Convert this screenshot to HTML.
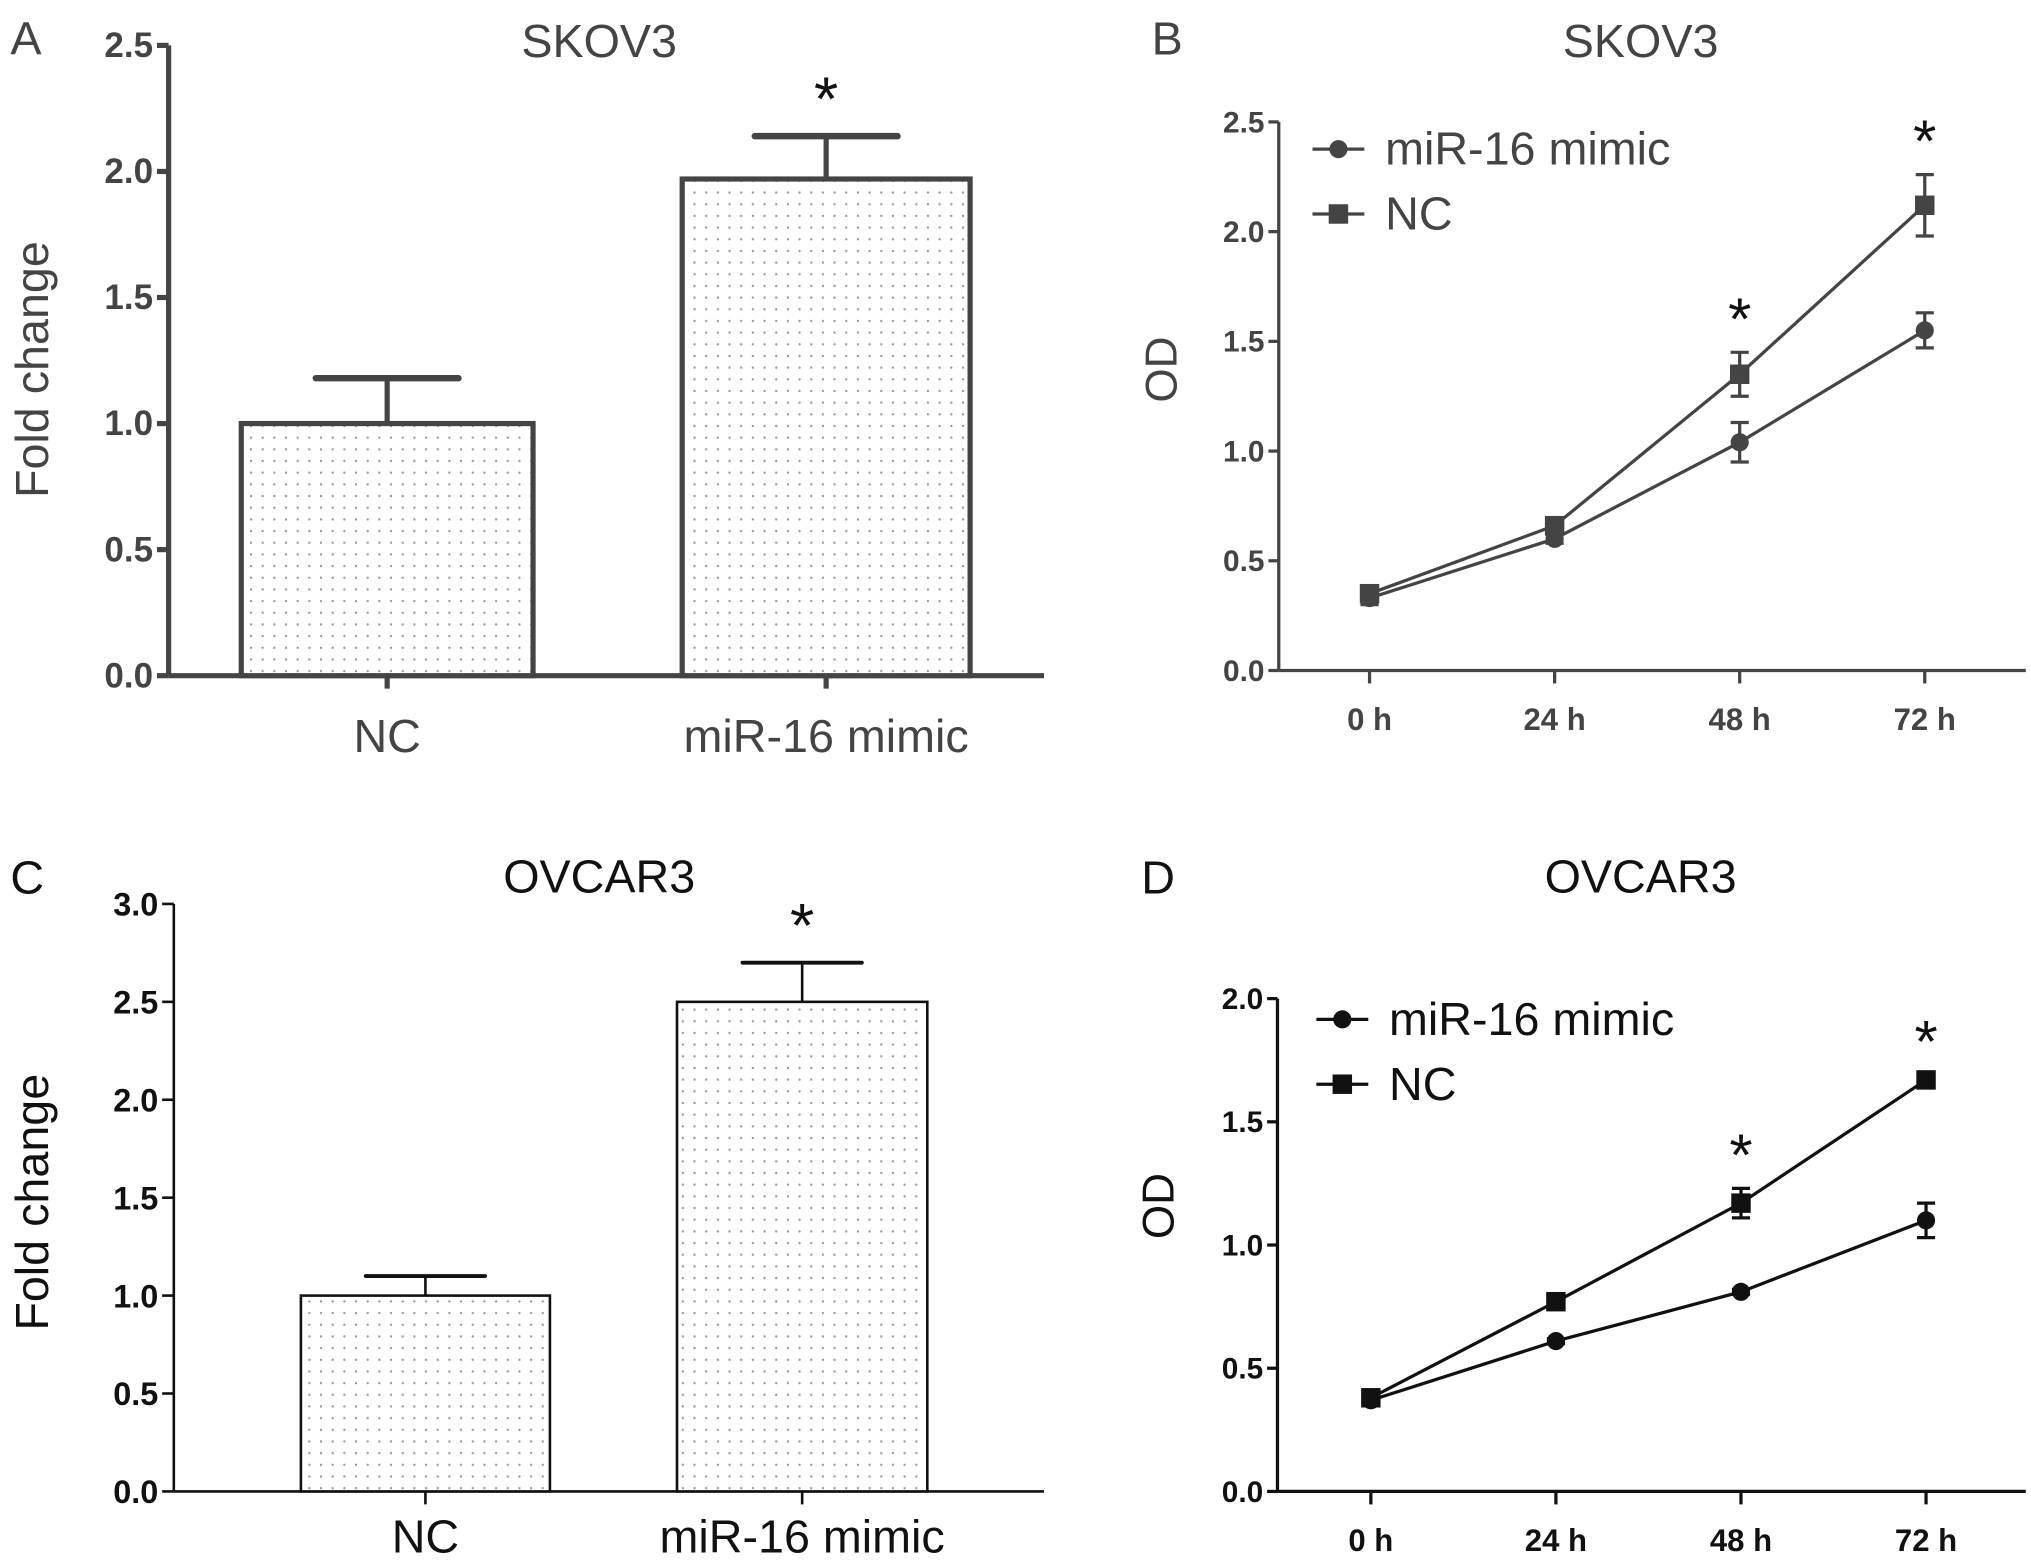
<!DOCTYPE html>
<html><head><meta charset="utf-8"><style>
html,body{margin:0;padding:0;background:#fff;}
svg{display:block;font-family:"Liberation Sans",Arial,sans-serif;}
</style></head><body>
<svg id="fig" width="2031" height="1566" viewBox="0 0 1566 1207.5" xmlns="http://www.w3.org/2000/svg">
<defs>
<pattern id="dots" width="9" height="9" patternUnits="userSpaceOnUse"><rect width="9" height="9" fill="#fff"/><circle cx="4.5" cy="4.5" r="0.9" fill="#999"/></pattern>
</defs>
</svg>
<script>
// Panel A data
const catsA = ["NC", "miR-16 mimic"];
const valsA = [1.0, 1.97];
const errA = [0.18, 0.17];
const ticksA = [0, 0.5, 1.0, 1.5, 2.0, 2.5];
// Panel C data
const catsC = ["NC", "miR-16 mimic"];
const valsC = [1.0, 2.5];
const errC = [0.10, 0.20];
const ticksC = [0, 0.5, 1.0, 1.5, 2.0, 2.5, 3.0];
// Panel B data
const timesB = ["0 h", "24 h", "48 h", "72 h"];
const mimicB = [0.33, 0.60, 1.04, 1.55];
const mimicErrB = [0.03, 0.02, 0.09, 0.08];
const ncB = [0.35, 0.66, 1.35, 2.12];
const ncErrB = [0.03, 0.03, 0.10, 0.14];
const ticksB = [0, 0.5, 1.0, 1.5, 2.0, 2.5];
// Panel D data
const timesD = ["0 h", "24 h", "48 h", "72 h"];
const mimicD = [0.37, 0.61, 0.81, 1.10];
const mimicErrD = [0.01, 0.01, 0.01, 0.07];
const ncD = [0.38, 0.77, 1.17, 1.67];
const ncErrD = [0.01, 0.01, 0.06, 0.02];
const ticksD = [0, 0.5, 1.0, 1.5, 2.0];

const svg = document.getElementById('fig');
const NS = "http://www.w3.org/2000/svg";
function el(tag, attrs, parent, text){
  const e = document.createElementNS(NS, tag);
  for (const k in attrs) e.setAttribute(k, attrs[k]);
  if (text !== undefined) e.textContent = text;
  (parent || svg).appendChild(e);
  return e;
}
function txt(x,y,s,size,color,anchor,weight,parent){
  return el('text',{x:x,y:y,'font-size':size,fill:color,'text-anchor':anchor||'middle','font-weight':weight||'normal'},parent,s);
}

function barPanel(cfg){
  const g = el('g',{});
  
  
  const y = v => cfg.y0 - (v/cfg.ymax)*(cfg.y0-cfg.ytop);
  const c = cfg.color, sw = cfg.sw;
  const ya = el('line',{x1:cfg.ax,y1:cfg.ytop,x2:cfg.ax,y2:cfg.y0,stroke:c,'stroke-width':sw},g);
  
  
  const xa = el('line',{x1:cfg.ax,y1:cfg.y0,x2:cfg.xend,y2:cfg.y0,stroke:c,'stroke-width':sw},g);
  
  
  cfg.ticks.forEach(t=>{
    el('line',{x1:cfg.ax-9,y1:y(t),x2:cfg.ax,y2:y(t),stroke:c,'stroke-width':sw},g);
    const tl = txt(cfg.ax-12,y(t)+9,t.toFixed(1),cfg.tfs,c,'end','bold',g);
    
    
  });
  cfg.cats.forEach((cat,i)=>{
    const x0 = cfg.bx[i][0], x1 = cfg.bx[i][1], cx=(x0+x1)/2;
    const top = y(cfg.vals[i]), et = y(cfg.vals[i]+cfg.err[i]);
    el('line',{x1:cx,y1:top,x2:cx,y2:et,stroke:c,'stroke-width':sw},g);
    el('line',{x1:cx-cfg.cap,y1:et,x2:cx+cfg.cap,y2:et,stroke:c,'stroke-width':sw+1,'stroke-linecap':'round'},g);
    const b = el('rect',{x:x0,y:top,width:x1-x0,height:cfg.y0-top,fill:'url(#dots)',stroke:c,'stroke-width':sw},g);
    
    
    el('line',{x1:cx,y1:cfg.y0,x2:cx,y2:cfg.y0+10,stroke:c,'stroke-width':sw},g);
    const cl = txt(cx,cfg.y0+cfg.catOff,cat,36,c,'middle','normal',g);
    
    
    if(i===1){
      const s = txt(cx,et-12,'*',48,'#111','middle','normal',g);
      
      
    }
  });
  const tt = txt(cfg.tx,cfg.ty,cfg.title,36,c,'middle','normal',g);
  
  
  const pl = txt(cfg.lx,cfg.ly,cfg.letter,36,c,'start','normal',g);
  
  
  const yl = el('text',{x:0,y:0,'font-size':36,fill:c,'text-anchor':'middle',transform:`translate(${cfg.ylx},${cfg.yly}) rotate(-90)`},g,'Fold change');
  
  
}

function linePanel(cfg){
  const g = el('g',{});
  
  
  const y = v => cfg.y0 - (v/cfg.ymax)*(cfg.y0-cfg.ytop);
  const x = i => cfg.x0 + i*cfg.dx;
  const c = cfg.color, sw=cfg.sw;
  const ya = el('line',{x1:cfg.ax,y1:cfg.ytop,x2:cfg.ax,y2:cfg.y0,stroke:c,'stroke-width':sw},g);
  
  
  const xa = el('line',{x1:cfg.ax,y1:cfg.y0,x2:cfg.xend,y2:cfg.y0,stroke:c,'stroke-width':sw},g);
  
  
  cfg.ticks.forEach(t=>{
    el('line',{x1:cfg.ax-8,y1:y(t),x2:cfg.ax,y2:y(t),stroke:c,'stroke-width':sw},g);
    const tl = txt(cfg.ax-11,y(t)+8,t.toFixed(1),23,c,'end','bold',g);
    
    
  });
  cfg.times.forEach((t,i)=>{
    el('line',{x1:x(i),y1:cfg.y0,x2:x(i),y2:cfg.y0+10,stroke:c,'stroke-width':sw},g);
    const tl = txt(x(i),cfg.y0+46,t,24,c,'middle','bold',g);
    
    
  });
  function series(vals, errs, kind, name){
    const sg = el('g',{},g);
    
    
    el('polyline',{points:vals.map((v,i)=>x(i)+','+y(v)).join(' '),fill:'none',stroke:c,'stroke-width':sw},sg);
    vals.forEach((v,i)=>{
      const e1=y(v+errs[i]), e2=y(v-errs[i]);
      el('line',{x1:x(i),y1:e1,x2:x(i),y2:e2,stroke:c,'stroke-width':2.5},sg);
      el('line',{x1:x(i)-7,y1:e1,x2:x(i)+7,y2:e1,stroke:c,'stroke-width':2.5},sg);
      el('line',{x1:x(i)-7,y1:e2,x2:x(i)+7,y2:e2,stroke:c,'stroke-width':2.5},sg);
      const m = kind==='circle' ? el('circle',{cx:x(i),cy:y(v),r:7,fill:c},sg)
        : el('rect',{x:x(i)-7.5,y:y(v)-7.5,width:15,height:15,fill:c},sg);
      
      
    });
  }
  series(cfg.mimic, cfg.mimicErr, 'circle', 'series-mimic');
  series(cfg.nc, cfg.ncErr, 'square', 'series-nc');
  [2,3].forEach(i=>{
    const top = y(cfg.nc[i]+cfg.ncErr[i]);
    const s = txt(x(i), top-10, '*', 46, '#111','middle','normal',g);
    
    
  });
  const lg = el('g',{},g);
  
  
  [['miR-16 mimic','circle'],['NC','square']].forEach((it,k)=>{
    const ly = cfg.legY + k*cfg.legDy;
    const le = el('g',{},lg);
    
    
    el('line',{x1:cfg.legX-20,y1:ly,x2:cfg.legX+20,y2:ly,stroke:c,'stroke-width':sw},le);
    if(it[1]==='circle') el('circle',{cx:cfg.legX,cy:ly,r:7,fill:c},le);
    else el('rect',{x:cfg.legX-7.5,y:ly-7.5,width:15,height:15,fill:c},le);
    txt(cfg.legX+36,ly+12,it[0],36,c,'start','normal',le);
  });
  const tt = txt(cfg.tx,cfg.ty,cfg.title,36,c,'middle','normal',g);
  
  
  const pl = txt(cfg.lx,cfg.ly,cfg.letter,36,c,'start','normal',g);
  
  
  const yl = el('text',{x:0,y:0,'font-size':34,fill:c,'text-anchor':'middle',transform:`translate(${cfg.ylx},${cfg.yly}) rotate(-90)`},g,'OD');
  
  
}

barPanel({name:'panel-a-bar-chart',cats:catsA,vals:valsA,err:errA,ticks:ticksA,ymax:2.5,tfs:27,catOff:59,
  ax:130,y0:521,ytop:35,xend:805,bx:[[186,411],[526,748]],cap:55,color:'#444',sw:4,
  title:'SKOV3',tx:462,ty:44,letter:'A',lx:8,ly:42,ylx:37,yly:285});
barPanel({name:'panel-c-bar-chart',cats:catsC,vals:valsC,err:errC,ticks:ticksC,ymax:3.0,tfs:25,catOff:47,
  ax:134,y0:1150,ytop:697,xend:805,bx:[[232,424],[522,715]],cap:46,color:'#111',sw:2,
  title:'OVCAR3',tx:462,ty:688,letter:'C',lx:8,ly:689,ylx:37,yly:927});
linePanel({name:'panel-b-line-chart',times:timesB,mimic:mimicB,mimicErr:mimicErrB,nc:ncB,ncErr:ncErrB,ticks:ticksB,ymax:2.5,
  ax:986,y0:517,ytop:94,xend:1562,x0:1056,dx:142.7,color:'#444',sw:2.5,legX:1032,legY:115,legDy:50,
  title:'SKOV3',tx:1265,ty:44,letter:'B',lx:888,ly:42,ylx:907,yly:285});
linePanel({name:'panel-d-line-chart',times:timesD,mimic:mimicD,mimicErr:mimicErrD,nc:ncD,ncErr:ncErrD,ticks:ticksD,ymax:2.0,
  ax:985,y0:1150,ytop:770,xend:1562,x0:1057,dx:142.7,color:'#111',sw:2.5,legX:1035,legY:786,legDy:50,
  title:'OVCAR3',tx:1265,ty:688,letter:'D',lx:880,ly:689,ylx:905,yly:930});
</script>
</body></html>
